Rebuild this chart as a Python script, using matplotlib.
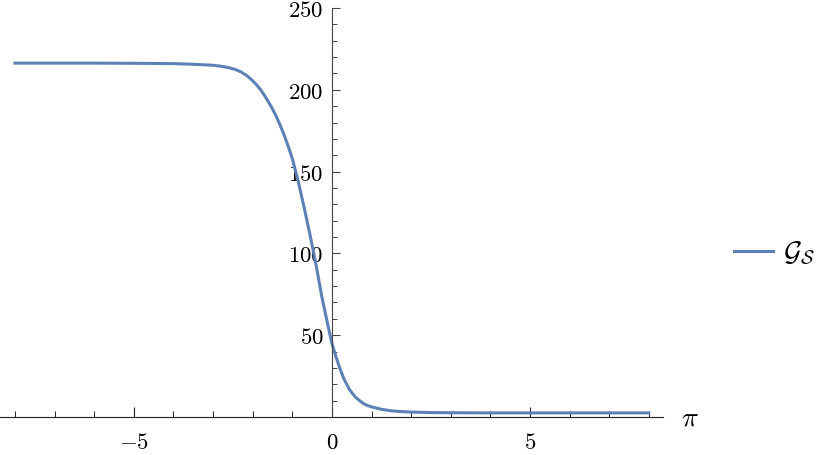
import matplotlib
matplotlib.use("Agg")
import matplotlib.pyplot as plt
from matplotlib.ticker import MultipleLocator, FixedLocator

plt.rcParams['mathtext.fontset'] = 'cm'

# values
pi_vals = [-8, -6, -5, -4, -3.5, -3, -2.8, -2.6, -2.45, -2.3, -2.15, -2.0,
           -1.9, -1.8, -1.7, -1.6, -1.5, -1.4, -1.3, -1.2, -1.1, -1.0, -0.85,
           -0.7, -0.55, -0.4, -0.25, -0.1, 0, 0.1, 0.2, 0.3, 0.45, 0.6, 0.7,
           0.8, 0.9, 1.0, 1.25, 1.5, 1.75, 2, 2.5, 3, 4, 5, 6, 8]
g_vals = [216.3, 216.3, 216.2, 216.0, 215.6, 215.0, 214.4, 213.5, 212.5, 211.0,
          208.7, 205.5, 203.0, 200.0, 196.5, 192.5, 188.3, 183.5, 178.0, 172.0,
          165.3, 158.0, 144.0, 128.0, 111.0, 93.0, 73.0, 56.0, 45.0, 37.0,
          29.8, 23.5, 16.5, 12.0, 10.0, 8.2, 7.0, 6.2, 4.7, 3.8, 3.3, 3.0,
          2.7, 2.6, 2.5, 2.5, 2.5, 2.5]
x_major = [-5, 0, 5]
y_major = [50, 100, 150, 200, 250]
series_label = r'$\mathcal{G}_\mathcal{S}$'

W, H = 830, 455
fig = plt.figure(figsize=(W / 100, H / 100), dpi=100)
ax = fig.add_axes([0, 38 / H, 663 / W, 409 / H])

line, = ax.plot(pi_vals, g_vals, color='#5E81B5', lw=2.2, clip_on=False,
                solid_joinstyle='round')

ax.set_xlim(-8.38, 8.36)
ax.set_ylim(0, 250)

for s in ['top', 'right']:
    ax.spines[s].set_visible(False)
ax.spines['left'].set_position(('data', 0))
ax.spines['bottom'].set_position(('data', 0))
ax.spines['left'].set_color('#444444')
ax.spines['bottom'].set_color('#222222')
ax.spines['left'].set_linewidth(0.8)
ax.spines['bottom'].set_linewidth(0.8)
ax.patch.set_visible(False)

ax.xaxis.set_major_locator(FixedLocator(x_major))
ax.xaxis.set_minor_locator(MultipleLocator(1))
ax.yaxis.set_major_locator(FixedLocator(y_major))
ax.yaxis.set_minor_locator(MultipleLocator(10))
ax.set_xticklabels([r'$-5$', r'$0$', r'$5$'])
ax.set_yticklabels([r'$%d$' % v for v in y_major])

ax.tick_params(axis='x', which='major', direction='in', length=7, width=0.8,
               pad=10, labelsize=16.5, color='#222222')
ax.tick_params(axis='x', which='minor', direction='in', length=4.5, width=0.7,
               color='#222222')
ax.tick_params(axis='y', which='major', direction='in', length=6, width=0.8,
               pad=6, labelsize=16.5, color='#444444')
ax.tick_params(axis='y', which='minor', direction='in', length=3.5, width=0.7,
               color='#444444')

fig.text(690 / W, 1 - 418 / H, r'$\pi$', fontsize=20, ha='center', va='center')

fig.legend([line], [series_label], loc='center left',
           bbox_to_anchor=(734 / W, 1 - 253 / H), frameon=False,
           fontsize=20, handlelength=1.4, handletextpad=0.35, borderpad=0,
           borderaxespad=0)

fig.savefig('out.png', dpi=100)
